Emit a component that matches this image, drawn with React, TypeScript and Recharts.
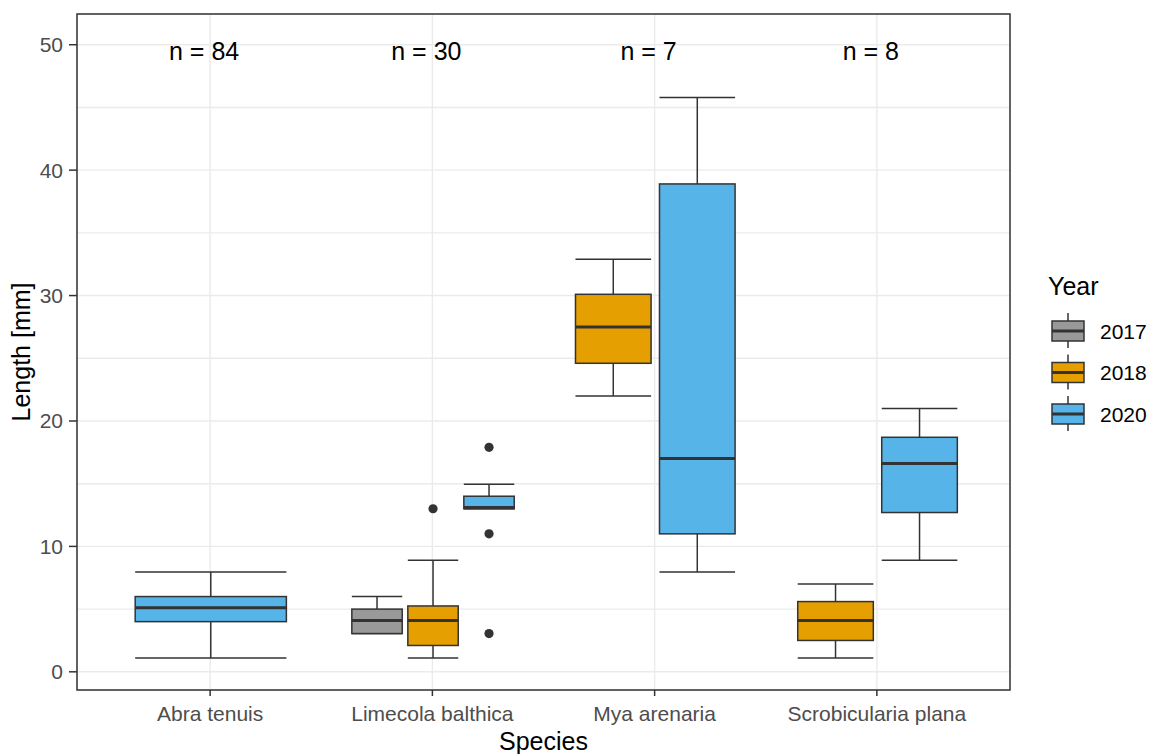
import React from "react";
import {
  ComposedChart,
  Bar,
  Line,
  XAxis,
  YAxis,
  CartesianGrid,
  LabelList,
} from "recharts";

const species = ["Abra tenuis", "Limecola balthica", "Mya arenaria", "Scrobicularia plana"];
const sampleSizes = [84, 30, 7, 8];
const years = ["2017", "2018", "2020"];
const yearColors = ["#999999", "#E69F00", "#56B4E9"];

// [lower whisker, Q1, median, Q3, upper whisker], null when no samples that year
const stats2017 = [null, [3.05, 3.05, 4.1, 5, 6], null, null];
const stats2018 = [null, [1.1, 2.1, 4.1, 5.25, 8.9], [22, 24.6, 27.5, 30.1, 32.9], [1.1, 2.5, 4.1, 5.6, 7]];
const stats2020 = [
  [1.1, 4, 5.1, 6, 7.95],
  [13, 13, 13.1, 14, 14.95],
  [7.95, 11, 17, 38.9, 45.8],
  [8.9, 12.7, 16.6, 18.7, 21],
];
const outliers2017: number[][] = [[], [], [], []];
const outliers2018 = [[], [13], [], []];
const outliers2020 = [[], [17.9, 11, 3.05], [], []];

const labelLevel = 50;
const yTicks = [0, 5, 10, 15, 20, 25, 30, 35, 40, 45, 50];
const yDomain = [-1.45, 52.45];

const statsByYear = [stats2017, stats2018, stats2020];
const outliersByYear = [outliers2017, outliers2018, outliers2020];

const data = species.map((name, i) => {
  const row: any = { name, n: sampleSizes[i], labelY: labelLevel };
  years.forEach((yr, s) => {
    const st = statsByYear[s][i];
    row["y" + yr] = st ? [st[0], st[4]] : null;
  });
  return row;
});

const FONT = '"Liberation Sans", Arial, sans-serif';
const INK = "#333333";
const W = 1156;
const H = 754;
const margin = { top: 14, right: 146, bottom: 0, left: 0 };
const yAxisWidth = 77;
const xAxisHeight = 64;

const makeBoxShape = (s: number) => (props: any) => {
  const { x, y, width, height, payload } = props;
  const i = species.indexOf(payload?.name);
  const st = i >= 0 ? statsByYear[s][i] : null;
  if (!st || width == null) return <g />;
  const present = years.map((_, k) => k).filter((k) => statsByYear[k][i]);
  const n = present.length;
  const k = present.indexOf(s);
  const total = width * years.length;
  const groupCenter = x + width / 2 + ((years.length - 1) / 2 - s) * width;
  const cw = total / n;
  const cx = groupCenter - total / 2 + (k + 0.5) * cw;
  const bw = cw * 0.9;
  const [lo, q1, med, q3, hi] = st;
  const top = Math.min(y, y + height);
  const h = Math.abs(height);
  const py = (v: number) => top + (h * (hi - v)) / (hi - lo);
  return (
    <g>
      <line x1={cx} x2={cx} y1={py(hi)} y2={py(q3)} stroke={INK} strokeWidth={1.5} />
      <line x1={cx} x2={cx} y1={py(q1)} y2={py(lo)} stroke={INK} strokeWidth={1.5} />
      <line x1={cx - bw / 2} x2={cx + bw / 2} y1={py(hi)} y2={py(hi)} stroke={INK} strokeWidth={1.5} />
      <line x1={cx - bw / 2} x2={cx + bw / 2} y1={py(lo)} y2={py(lo)} stroke={INK} strokeWidth={1.5} />
      <rect
        x={cx - bw / 2}
        y={py(q3)}
        width={bw}
        height={py(q1) - py(q3)}
        fill={yearColors[s]}
        stroke={INK}
        strokeWidth={1.5}
      />
      <line x1={cx - bw / 2} x2={cx + bw / 2} y1={py(med)} y2={py(med)} stroke={INK} strokeWidth={3} />
      {outliersByYear[s][i].map((v, j) => (
        <circle key={j} cx={cx} cy={py(v)} r={4.6} fill={INK} />
      ))}
    </g>
  );
};

const YTick = (props: any) => {
  const { x, y, payload } = props;
  if (payload.value % 10 !== 0) return <g />;
  return (
    <g>
      <line x1={x + 6} x2={x + 14} y1={y} y2={y} stroke={INK} strokeWidth={1.5} />
      <text x={x} y={y} dy={7.5} textAnchor="end" fill="#4D4D4D" fontSize={21} fontFamily={FONT}>
        {payload.value}
      </text>
    </g>
  );
};

const NLabel = (props: any) => {
  const { x, y, value } = props;
  return (
    <text x={x} y={y} dx={-6} dy={15.5} textAnchor="middle" fill="#000" fontSize={25} fontFamily={FONT}>
      {"n = " + value}
    </text>
  );
};

const YTitle = (props: any) => {
  const vb = props.viewBox;
  const cy = vb.y + vb.height / 2;
  return (
    <text
      x={30}
      y={cy}
      transform={`rotate(-90, 30, ${cy})`}
      textAnchor="middle"
      fill="#000"
      fontSize={25}
      fontFamily={FONT}
    >
      Length [mm]
    </text>
  );
};

const XTitle = (props: any) => {
  const vb = props.viewBox;
  return (
    <text x={vb.x + vb.width / 2} y={750} textAnchor="middle" fill="#000" fontSize={25} fontFamily={FONT}>
      Species
    </text>
  );
};

export default function App() {
  // panel frame (theme_bw border) around the plotting area
  const px = margin.left + yAxisWidth;
  const py = margin.top;
  const pw = W - margin.right - px;
  const ph = H - margin.bottom - xAxisHeight - py;
  return (
    <div
      style={{
        position: "absolute",
        left: 0,
        top: 0,
        width: W,
        height: H,
        background: "#fff",
        fontFamily: FONT,
      }}
    >
      <ComposedChart
        width={W}
        height={H}
        data={data}
        margin={margin}
        barGap={0}
        barCategoryGap="12.5%"
        style={{ fontFamily: FONT }}
      >
        <CartesianGrid stroke="#EBEBEB" strokeWidth={1.4} />
        <XAxis
          dataKey="name"
          padding={{ left: 22, right: 22 }}
          interval={0}
          height={xAxisHeight}
          axisLine={false}
          tickSize={6}
          tickMargin={10}
          tickLine={{ stroke: INK, strokeWidth: 1.5 }}
          tick={{ fill: "#4D4D4D", fontSize: 21 }}
          label={XTitle}
        />
        <YAxis
          type="number"
          domain={yDomain}
          ticks={yTicks}
          allowDataOverflow
          width={yAxisWidth}
          axisLine={false}
          tickLine={false}
          tickSize={8}
          tickMargin={6}
          tick={YTick}
          label={YTitle}
        />
        {years.map((yr, s) => (
          <Bar
            key={yr}
            dataKey={"y" + yr}
            fill={yearColors[s]}
            shape={makeBoxShape(s)}
            isAnimationActive={false}
          />
        ))}
        <Line dataKey="labelY" stroke="none" dot={false} activeDot={false} isAnimationActive={false}>
          <LabelList dataKey="n" content={NLabel} />
        </Line>
      </ComposedChart>

      <svg
        style={{ position: "absolute", left: 0, top: 0, pointerEvents: "none" }}
        width={W}
        height={H}
      >
        <rect x={px} y={py} width={pw} height={ph} fill="none" stroke={INK} strokeWidth={1.5} />
      </svg>

      <svg
        style={{ position: "absolute", left: 1030, top: 260 }}
        width={126}
        height={180}
        fontFamily={FONT}
      >
        <text x={18} y={35} fontSize={25} fill="#000">
          Year
        </text>
        {years.map((yr, i) => {
          const cy = 71 + i * 41.5;
          return (
            <g key={yr}>
              <line x1={38} x2={38} y1={cy - 18} y2={cy + 17} stroke={INK} strokeWidth={1.5} />
              <rect x={22} y={cy - 10} width={32} height={20} fill={yearColors[i]} stroke={INK} strokeWidth={1.5} />
              <line x1={22} x2={54} y1={cy} y2={cy} stroke={INK} strokeWidth={3} />
              <text x={70} y={cy + 7.5} fontSize={21} fill="#000">
                {yr}
              </text>
            </g>
          );
        })}
      </svg>
    </div>
  );
}
